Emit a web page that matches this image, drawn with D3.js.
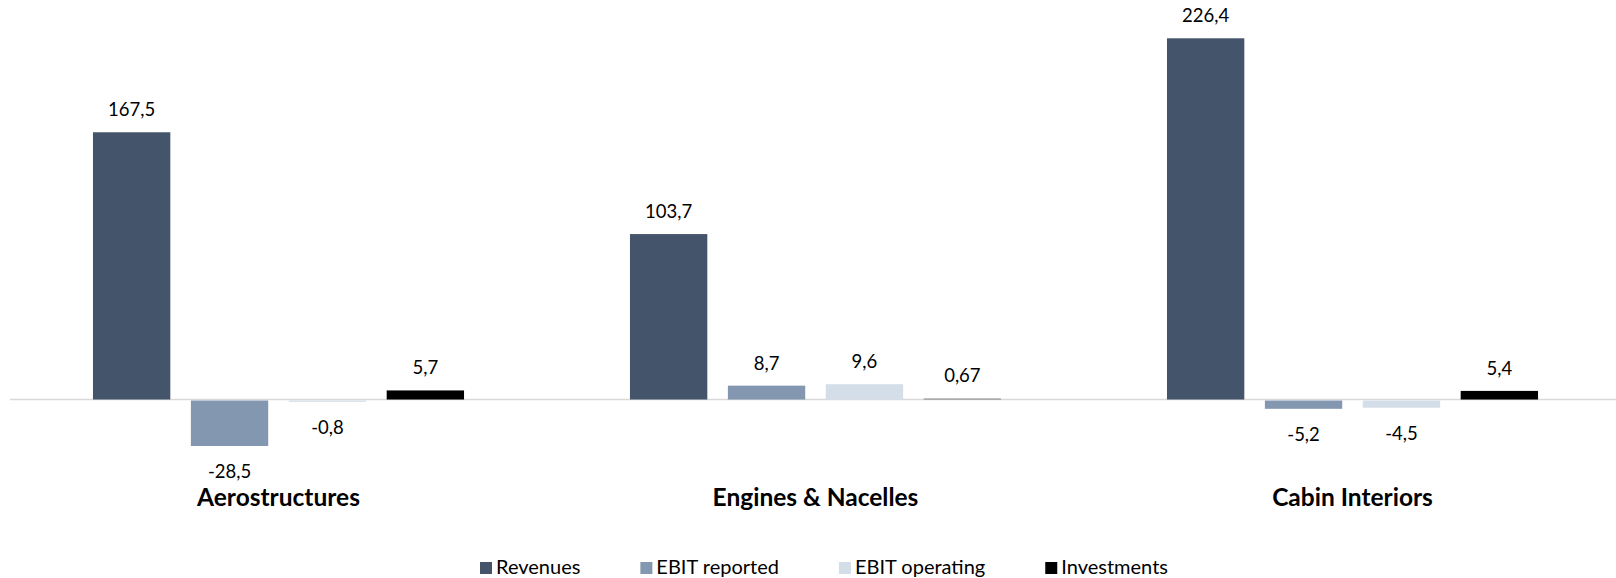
<!DOCTYPE html>
<html>
<head>
<meta charset="utf-8">
<script src="https://cdn.jsdelivr.net/npm/d3@7"></script>
<style>
  body { margin: 0; background: #fff; }
  svg { display: block; font-family: Lato, "Open Sans", sans-serif; }
</style>
</head>
<body>
<div class="chart"></div>
<script>
// segment names and series
var categories = ["Aerostructures", "Engines & Nacelles", "Cabin Interiors"];
var seriesNames = ["Revenues", "EBIT reported", "EBIT operating", "Investments"];
var seriesColors = ["#44546A", "#8497B0", "#D3DEE8", "#000000"];

var revenues = [167.5, 103.7, 226.4];
var ebitReported = [-28.5, 8.7, -5.2];
var ebitOperating = [-0.8, 9.6, -4.5];
var investments = [5.7, 0.67, 5.4];
var valueLabels = [
  ["167,5", "-28,5", "-0,8", "5,7"],
  ["103,7", "8,7", "9,6", "0,67"],
  ["226,4", "-5,2", "-4,5", "5,4"]
];

var width = 1616, height = 578;

var svg = d3.select("div.chart")
  .append("svg")
  .attr("width", width)
  .attr("height", height);

// build rows from the arrays
var rows = categories.map(function (c, i) {
  return {
    name: c,
    values: [revenues[i], ebitReported[i], ebitOperating[i], investments[i]],
    labels: valueLabels[i]
  };
});

var x0 = d3.scaleBand()
  .domain(categories)
  .range([10, 1621])
  .paddingInner(0.309)
  .paddingOuter(0.1545);

var x1 = d3.scaleBand()
  .domain(seriesNames)
  .range([0, x0.bandwidth()])
  .paddingInner(0.21)
  .paddingOuter(0);

var y = d3.scaleLinear()
  .domain([-50, 240])
  .range([479.3, 16.6]);

// zero line
svg.append("line")
  .attr("x1", 10)
  .attr("x2", 1616)
  .attr("y1", y(0))
  .attr("y2", y(0))
  .style("stroke", "#D9D9D9")
  .style("stroke-width", 1.5);

var groups = svg.selectAll("g.group")
  .data(rows)
  .enter().append("g")
  .attr("class", "group")
  .attr("transform", function (d) { return "translate(" + x0(d.name) + ",0)"; });

var cells = groups.selectAll("g.cell")
  .data(function (d) {
    return d.values.map(function (v, j) { return { key: seriesNames[j], value: v, label: d.labels[j], idx: j }; });
  })
  .enter().append("g")
  .attr("class", "cell");

cells.append("rect")
  .attr("x", function (d) { return x1(d.key); })
  .attr("width", x1.bandwidth())
  .attr("y", function (d) { return d.value >= 0 ? y(d.value) : y(0) + 1; })
  .attr("height", function (d) { return Math.abs(y(d.value) - y(0)); })
  .style("fill", function (d) { return seriesColors[d.idx]; })
  .style("opacity", function (d) { return Math.abs(d.value) < 1 && d.value > 0 ? 0.4 : 1; });

cells.append("text")
  .attr("x", function (d) { return x1(d.key) + x1.bandwidth() / 2; })
  .attr("y", function (d) { return d.value >= 0 ? y(d.value) - 16 : y(d.value) + 33; })
  .attr("text-anchor", "middle")
  .style("font-size", "18.5px")
  .style("fill", "#000")
  .text(function (d) { return d.label; });

// category labels
svg.selectAll("text.cat")
  .data(categories)
  .enter().append("text")
  .attr("class", "cat")
  .attr("x", function (d) { return x0(d) + x0.bandwidth() / 2; })
  .attr("y", 506)
  .attr("text-anchor", "middle")
  .style("font-size", "24.5px")
  .style("font-weight", "bold")
  .style("fill", "#000")
  .text(function (d) { return d; });

// legend
var legend = svg.append("g").attr("class", "legend");
var lx = 480;
seriesNames.forEach(function (s, i) {
  legend.append("rect")
    .attr("x", lx)
    .attr("y", 562)
    .attr("width", 12)
    .attr("height", 12)
    .style("fill", seriesColors[i]);
  var t = legend.append("text")
    .attr("x", lx + 16)
    .attr("y", 574)
    .style("font-size", "20px")
    .style("fill", "#000")
    .text(s);
  lx = lx + 16 + t.node().getComputedTextLength() + 60;
});
</script>
</body>
</html>
